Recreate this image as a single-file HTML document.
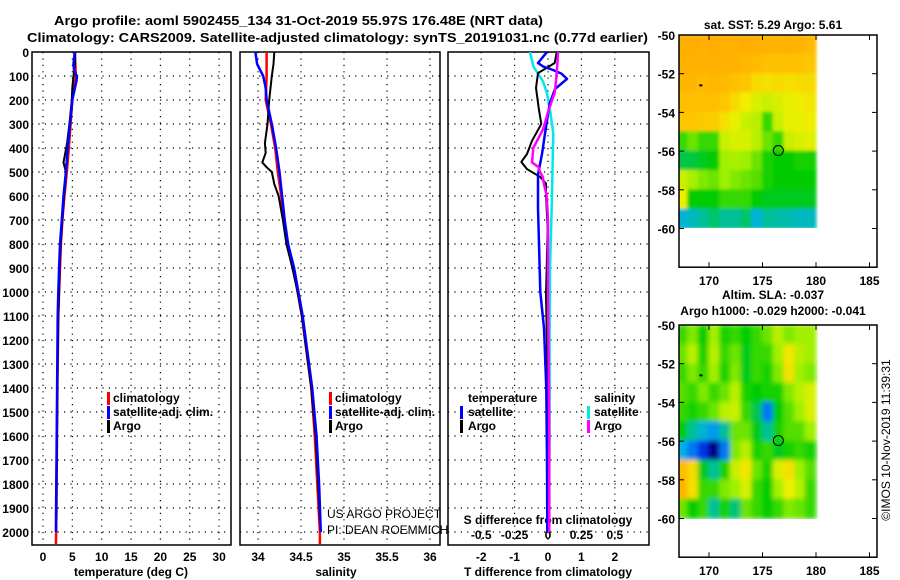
<!DOCTYPE html>
<html><head><meta charset="utf-8"><style>
html,body{margin:0;padding:0;background:#fff;}
svg{display:block;font-family:"Liberation Sans",Arial,sans-serif;}
.t{font-size:12px;font-weight:bold;fill:#000;}
</style></head><body>
<svg id="fig" width="900" height="580" viewBox="0 0 900 580">
<defs>
<clipPath id="c1"><rect x="32" y="52" width="199" height="493"/></clipPath>
<clipPath id="c2"><rect x="240" y="52" width="200" height="493"/></clipPath>
<clipPath id="c3"><rect x="448" y="52" width="201" height="493"/></clipPath>
<filter id="blur1"><feGaussianBlur stdDeviation="1.5"/></filter>
<filter id="blur2"><feGaussianBlur stdDeviation="2.5"/></filter>
<clipPath id="m1c"><rect x="679" y="35" width="139" height="193"/></clipPath>
<clipPath id="m2c"><rect x="679" y="325" width="139" height="194"/></clipPath>
</defs>
<text class="t" x="54" y="25" textLength="489" lengthAdjust="spacingAndGlyphs" style="font-size:13px">Argo profile: aoml 5902455_134 31-Oct-2019 55.97S 176.48E (NRT data)</text>
<text class="t" x="27" y="42" textLength="621" lengthAdjust="spacingAndGlyphs" style="font-size:13px">Climatology: CARS2009. Satellite-adjusted climatology: synTS_20191031.nc (0.77d earlier)</text>
<g id="layer"></g>
</svg>
<script>
// ---------- data ----------
const depthTicks=[0,100,200,300,400,500,600,700,800,900,1000,1100,1200,1300,1400,1500,1600,1700,1800,1900,2000];
const tempTicks=[0,5,10,15,20,25,30];
const salTicks=[34,34.5,35,35.5,36];
const tdiffTicks=[-2,-1,0,1,2];
const sdiffTicks=[-0.5,-0.25,0,0.25,0.5];

const tClimDepth=[0,100,200,300,400,500,600,700,800,900,1000,1100,1400,1700,2000,2050];
const tClimVal=[5.4,5.6,5.0,4.7,4.4,4.05,3.65,3.3,3.05,2.9,2.75,2.6,2.45,2.35,2.25,2.2];
const tSatDepth=[0,50,80,100,120,200,300,400,500,600,700,800,900,1000,1100,1400,1700,2000];
const tSatVal=[5.4,5.2,5.3,5.8,5.7,5.0,4.6,4.2,3.9,3.5,3.2,2.9,2.75,2.6,2.5,2.4,2.3,2.2];
const tArgoDepth=[0,50,100,150,200,300,380,420,460,480,500,550,600,700,800,900,1000,1100,1400,1700,1950];
const tArgoVal=[5.5,5.45,5.2,5.0,4.9,4.5,4.1,3.8,3.5,3.7,3.9,3.8,3.6,3.3,3.0,2.85,2.75,2.6,2.45,2.35,2.3];

const sClimDepth=[0,100,200,300,400,500,600,700,800,900,1000,1100,1400,1600,1800,2000,2050];
const sClimVal=[34.1,34.1,34.09,34.15,34.2,34.23,34.27,34.30,34.34,34.41,34.46,34.51,34.62,34.66,34.69,34.72,34.72];
const sSatDepth=[0,50,100,150,200,300,400,500,600,700,800,900,1000,1100,1400,1600,1800,2000];
const sSatVal=[33.97,33.99,34.06,34.09,34.1,34.16,34.21,34.25,34.28,34.31,34.35,34.42,34.47,34.52,34.63,34.68,34.71,34.73];
const sArgoDepth=[0,50,100,200,300,380,420,460,480,500,550,600,700,800,900,1000,1100,1400,1600,1800,1950];
const sArgoVal=[34.19,34.18,34.16,34.13,34.11,34.08,34.09,34.05,34.1,34.16,34.19,34.24,34.29,34.33,34.40,34.46,34.51,34.62,34.67,34.70,34.72];

const dTArgoDepth=[0,46,88,150,242,300,370,425,458,488,520,548,596,735,1010,1300,1600,1950];
const dTArgoVal=[0.26,0.2,-0.3,-0.36,-0.27,-0.2,-0.48,-0.63,-0.8,-0.63,-0.24,-0.06,-0.06,-0.01,-0.06,-0.02,0.0,0.0];
const dTSatDepth=[0,46,60,75,90,112,154,215,260,340,425,510,650,800,1000,1150,1400,1700,2000];
const dTSatVal=[-0.03,-0.3,-0.15,0.15,0.4,0.57,0.21,0.05,0.0,-0.09,-0.18,-0.3,-0.3,-0.27,-0.23,-0.12,-0.05,-0.03,-0.02];
const dSSatDepth=[0,60,120,167,240,340,450,600,900,1200,1600,2000];
const dSSatVal=[-0.135,-0.11,-0.04,-0.01,0.015,0.04,0.035,0.03,0.015,0.012,0.012,0.005];
const dSArgoDepth=[0,50,120,170,250,320,400,460,480,500,520,550,600,700,1000,1300,1600,2000];
const dSArgoVal=[0.075,0.07,0.06,0.05,0.0,-0.035,-0.11,-0.12,-0.07,-0.06,-0.04,-0.03,-0.01,0.0,0.0,0.005,0.01,0.01];

// SST map grid: rows lat -50..-60 (1 deg), cols lon 167..180
const sstGrid=[
[0.86,0.86,0.85,0.86,0.85,0.85,0.86,0.85,0.84,0.84,0.85,0.84,0.82],
[0.85,0.85,0.84,0.85,0.85,0.84,0.83,0.82,0.80,0.80,0.80,0.80,0.78],
[0.83,0.83,0.82,0.83,0.82,0.80,0.78,0.72,0.70,0.72,0.70,0.72,0.72],
[0.80,0.80,0.80,0.80,0.78,0.72,0.66,0.62,0.60,0.62,0.64,0.66,0.68],
[0.78,0.78,0.77,0.76,0.70,0.64,0.60,0.58,0.45,0.60,0.64,0.64,0.66],
[0.45,0.50,0.45,0.45,0.60,0.62,0.62,0.58,0.50,0.45,0.60,0.62,0.63],
[0.35,0.36,0.38,0.40,0.55,0.56,0.55,0.50,0.42,0.40,0.40,0.42,0.42],
[0.60,0.56,0.52,0.50,0.55,0.52,0.50,0.48,0.42,0.40,0.40,0.40,0.40],
[0.65,0.40,0.40,0.40,0.45,0.45,0.45,0.40,0.38,0.38,0.38,0.38,0.38],
[0.22,0.25,0.30,0.33,0.30,0.30,0.33,0.22,0.30,0.28,0.27,0.25,0.25]];
// SLA map grid
const slaGrid=[
[0.45,0.52,0.40,0.55,0.42,0.45,0.40,0.45,0.50,0.58,0.52,0.55,0.55],
[0.50,0.58,0.42,0.58,0.45,0.50,0.38,0.45,0.45,0.55,0.68,0.58,0.55],
[0.45,0.52,0.45,0.55,0.42,0.52,0.38,0.45,0.42,0.52,0.70,0.55,0.52],
[0.48,0.45,0.52,0.45,0.50,0.58,0.42,0.40,0.42,0.42,0.52,0.58,0.62],
[0.45,0.42,0.45,0.50,0.58,0.60,0.45,0.35,0.15,0.40,0.48,0.55,0.62],
[0.40,0.30,0.22,0.18,0.30,0.50,0.50,0.38,0.30,0.42,0.48,0.48,0.55],
[0.20,0.15,0.08,0.0,0.15,0.52,0.58,0.42,0.45,0.38,0.42,0.45,0.42],
[0.82,0.72,0.38,0.30,0.42,0.60,0.68,0.50,0.42,0.62,0.70,0.55,0.48],
[0.85,0.70,0.45,0.45,0.52,0.55,0.62,0.45,0.40,0.55,0.65,0.58,0.45],
[0.50,0.40,0.45,0.30,0.42,0.32,0.50,0.45,0.40,0.45,0.52,0.50,0.45]];

// ---------- helpers ----------
const NS='http://www.w3.org/2000/svg';
const layer=document.getElementById('layer');
function mk(tag,attrs,parent){const e=document.createElementNS(NS,tag);for(const k in attrs)e.setAttribute(k,attrs[k]);(parent||layer).appendChild(e);return e;}
const yD=d=>52+d*0.24;
const xT=t=>43+t*5.87;
const xS=s=>258+(s-34)*86;
const xDT=v=>548+v*33.4;
const xDS=v=>548+v*133.6;
const PB=545;

function panel(x0,x1,name,xticks,xf,xlabels){
  const g=mk('g',{});
  
  
  depthTicks.forEach(d=>{ if(d>0) mk('line',{x1:x0,x2:x1,y1:yD(d),y2:yD(d),stroke:'#000','stroke-width':1.2,'stroke-dasharray':'1.2 5.2'},g);});
  xticks.forEach(v=>{const x=xf(v);mk('line',{x1:x,x2:x,y1:52,y2:PB,stroke:'#000','stroke-width':1.2,'stroke-dasharray':'1.2 5.2'},g);
    if(xlabels){const t=mk('text',{x:x,y:561,'text-anchor':'middle',class:'t'},g);t.textContent=v;}});
  mk('rect',{x:x0,y:52,width:x1-x0,height:PB-52,fill:'none',stroke:'#000','stroke-width':1.5},g);
  return g;
}
function line(dep,val,xf,color,clip,name,w){
  const p=dep.map((d,i)=>xf(val[i]).toFixed(1)+','+yD(d).toFixed(1)).join(' ');
  const e=mk('polyline',{points:p,fill:'none',stroke:color,'stroke-width':w||2.5,'clip-path':'url(#'+clip+')','stroke-linejoin':'round'});
  
  
}
function txt(x,y,s,name,extra){const t=mk('text',Object.assign({x:x,y:y,class:'t'},extra||{}));t.textContent=s;
  
  return t;}
function mark(x,y,color,name){const r=mk('rect',{x:x,y:y-10,width:3,height:13,fill:color});
  
  }

depthTicks.forEach(d=>{const t=mk('text',{x:29,y:yD(d)+5,'text-anchor':'end',class:'t'});t.textContent=d;
  
  });

panel(32,231,'temperature-panel',tempTicks,xT,true);
panel(240,440,'salinity-panel',salTicks,xS,true);
panel(448,649,'difference-panel',tdiffTicks,xDT,true);

txt(131,576,'temperature (deg C)','temperature-axis-title',{'text-anchor':'middle'});
txt(336,576,'salinity','salinity-axis-title',{'text-anchor':'middle'});
txt(548,576,'T difference from climatology','tdiff-axis-title',{'text-anchor':'middle'});
txt(548,524,'S difference from climatology','sdiff-axis-title',{'text-anchor':'middle'});
sdiffTicks.forEach(v=>{const t=mk('text',{x:xDS(v),y:539,'text-anchor':'middle',class:'t'});t.textContent=String(v);
  
  });

line(tClimDepth,tClimVal,xT,'#ff0000','c1','temp-climatology-line');
line(tArgoDepth,tArgoVal,xT,'#000','c1','temp-argo-line',2);
line(tSatDepth,tSatVal,xT,'#0000ff','c1','temp-satellite-line');
line(sClimDepth,sClimVal,xS,'#ff0000','c2','sal-climatology-line');
line(sArgoDepth,sArgoVal,xS,'#000','c2','sal-argo-line',2);
line(sSatDepth,sSatVal,xS,'#0000ff','c2','sal-satellite-line');
line(dSSatDepth,dSSatVal,xDS,'#00e8e8','c3','sdiff-satellite-line');
line(dTArgoDepth,dTArgoVal,xDT,'#000','c3','tdiff-argo-line',2);
line(dTSatDepth,dTSatVal,xDT,'#0000ff','c3','tdiff-satellite-line');
line(dSArgoDepth,dSArgoVal,xDS,'#ff00ff','c3','sdiff-argo-line');

mark(107,402,'#ff0000','legend-climatology-marker');txt(113,402,'climatology','legend-climatology');
mark(107,416,'#0000ff','legend-satellite-marker');txt(113,416,'satellite-adj. clim.','legend-satellite');
mark(107,430,'#000','legend-argo-marker');txt(113,430,'Argo','legend-argo');
mark(329,402,'#ff0000','legend2-climatology-marker');txt(335,402,'climatology','legend2-climatology');
mark(329,416,'#0000ff','legend2-satellite-marker');txt(335,416,'satellite-adj. clim.','legend2-satellite');
mark(329,430,'#000','legend2-argo-marker');txt(335,430,'Argo','legend2-argo');
txt(468,402,'temperature','legend3-temperature-heading');
txt(594,402,'salinity','legend3-salinity-heading');
mark(460,416,'#0000ff','legend3-tsat-marker');txt(468,416,'satellite','legend3-tsat');
mark(460,430,'#000','legend3-targo-marker');txt(468,430,'Argo','legend3-targo');
mark(587,416,'#00e8e8','legend3-ssat-marker');txt(594,416,'satellite','legend3-ssat');
mark(587,430,'#ff00ff','legend3-sargo-marker');txt(594,430,'Argo','legend3-sargo');
txt(327,518,'US ARGO PROJECT','project-credit',{style:'font-weight:normal;font-size:12px',fill:'#222'});
txt(327,534,'PI: DEAN ROEMMICH','pi-credit',{style:'font-weight:normal;font-size:12px',fill:'#222'});

// ---------- maps ----------
const stops=[[0,[0,0,128]],[0.1,[0,64,255]],[0.2,[0,176,230]],[0.3,[0,192,150]],[0.4,[0,204,0]],[0.55,[160,240,0]],[0.65,[240,240,0]],[0.8,[255,192,0]],[0.9,[255,160,0]],[1,[255,100,0]]];
function cmap(v){for(let i=1;i<stops.length;i++){if(v<=stops[i][0]){const a=stops[i-1],b=stops[i],f=(v-a[0])/(b[0]-a[0]);return 'rgb('+a[1].map((c,j)=>Math.round(c+(b[1][j]-c)*f)).join(',')+')';}}return 'rgb(255,100,0)';}
const xLon=l=>709+(l-170)*10.7;
function map(top,grid,clip,filt,name,title1,title2){
  const yLat=la=>top+(-50-la)*19.35;
  const g=mk('g',{});
  
  
  const hg=mk('g',{'clip-path':'url(#'+clip+')'},g);
  const hb=mk('g',{filter:'url(#'+filt+')'},hg);
  grid.forEach((row,r)=>row.forEach((v,c)=>{
    const cell=mk('rect',{x:xLon(167+c)-0.5,y:yLat(-50-r)-0.5,width:11.7,height:20.4,fill:cmap(v)},hb);
    
    
  }));
  mk('rect',{x:679,y:top,width:198,height:yLat(-62)-top,fill:'none',stroke:'#000','stroke-width':1.5},g);
  [170,175,180,185].forEach(l=>{mk('line',{x1:xLon(l),x2:xLon(l),y1:top,y2:top+5,stroke:'#000'},g);mk('line',{x1:xLon(l),x2:xLon(l),y1:yLat(-62),y2:yLat(-62)-5,stroke:'#000'},g);
    const t=mk('text',{x:xLon(l),y:yLat(-62)+18,'text-anchor':'middle',class:'t'},g);t.textContent=l;});
  [-50,-52,-54,-56,-58,-60].forEach(la=>{mk('line',{x1:679,x2:684,y1:yLat(la),y2:yLat(la),stroke:'#000'},g);mk('line',{x1:872,x2:877,y1:yLat(la),y2:yLat(la),stroke:'#000'},g);
    const t=mk('text',{x:675,y:yLat(la)+5,'text-anchor':'end',class:'t'},g);t.textContent=la;});
  mk('circle',{cx:xLon(176.48),cy:yLat(-55.97),r:5,fill:'none',stroke:'#000','stroke-width':1},g);
  mk('rect',{x:xLon(169.1),y:yLat(-52.55),width:3,height:2,fill:'#000'},g);
  const t1=mk('text',{x:773,y:top-(title2?26:6),'text-anchor':'middle',class:'t'},g);t1.textContent=title1;
  if(title2){const t2=mk('text',{x:773,y:top-10,'text-anchor':'middle',class:'t'},g);t2.textContent=title2;}
}
map(35,sstGrid,'m1c','blur1','sst-map','sat. SST: 5.29 Argo: 5.61');
map(325,slaGrid,'m2c','blur2','sla-map','Altim. SLA: -0.037','Argo h1000: -0.029 h2000: -0.041');
txt(890,440,'©IMOS 10-Nov-2019 11:39:31','timestamp',{transform:'rotate(-90 890 440)','text-anchor':'middle',style:'font-weight:normal;font-size:12px'});
</script>
</body></html>
